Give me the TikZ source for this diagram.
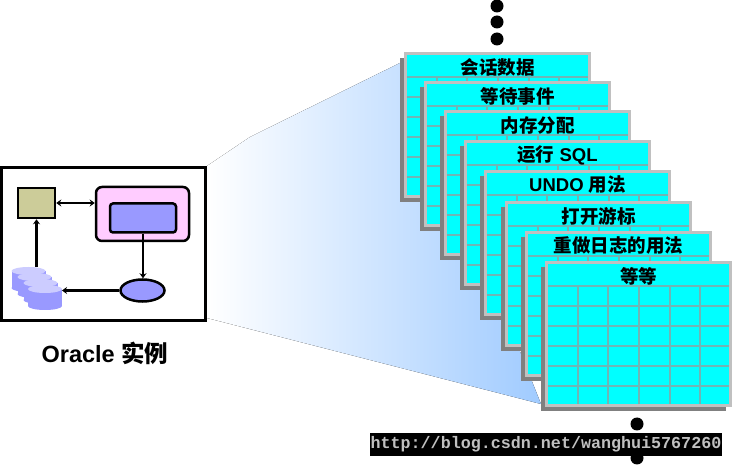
\documentclass[tikz,border=0pt]{standalone}
\usepackage{fontspec}
\setmainfont{Liberation Sans}
\setmonofont{Liberation Mono}
\newfontfamily\cjk{Noto Sans CJK SC}
\usetikzlibrary{arrows.meta,shapes.geometric,calc}
\definecolor{tabfill}{HTML}{00FFFF}
\definecolor{tabframe}{HTML}{C0C0C0}
\definecolor{tabshadow}{HTML}{808080}
\definecolor{tabgridline}{HTML}{6FB5B5}
\definecolor{memfill}{HTML}{9999FF}
\definecolor{dbtop}{HTML}{CCCCFF}
\definecolor{fanblue}{HTML}{A0CBFF}
\definecolor{squarefill}{HTML}{CCCC99}
\definecolor{sgafill}{HTML}{FFCCFF}

\begin{document}
\begin{tikzpicture}[x=1pt,y=-1pt,
                    tabbody/.style={fill=tabfill,draw=tabframe,line width=3pt},
                    tabgrid/.style={draw=tabgridline,line width=1.3pt},
                    tabtitle/.style={font=\fontsize{18.5}{20}\selectfont\bfseries,inner sep=0pt},
                    blob/.style={circle,fill=black,inner sep=0pt,minimum size=13pt},
                    part/.style={draw,line width=2.5pt,inner sep=0pt},
                    flow/.style={-{Stealth[length=5pt,width=7pt]},line width=2.5pt},
                    dbbox/.style={inner sep=0pt,outer sep=0pt,minimum width=34pt,minimum height=25pt}]
      \useasboundingbox (0,0) rectangle (732,465);

      \fill[left color=white,right color=fanblue] (207,166) -- (250,137) -- (404,61) -- (541,404) -- (207,318) -- cycle;

      \foreach[count=\i] \y in {6,22,39} {
        \node[blob] (top\i) at (497,\y) {};
      }
      \foreach[count=\i] \y in {424,441,458} {
        \node[blob] (bottom\i) at (637,\y) {};
      }

      \foreach[count=\i] \x/\y/\title in {404/52/{\cjk 会话数据},
                                          424/81/{\cjk 等待事件},
                                          444/110/{\cjk 内存分配},
                                          464/140/{\cjk 运行} SQL,
                                          484/170/UNDO {\cjk 用法},
                                          505/201/{\cjk 打开游标},
                                          525/231/{\cjk 重做日志的用法},
                                          545/261/{\cjk 等等}} {
        \begin{scope}[shift={(\x,\y)}]
          \fill[tabshadow] (-4,6) rectangle (181,150);
          \draw[tabbody] (1.5,1.5) rectangle (185.5,144.5);
          \foreach \row in {25,45,65,85,105,125} {
            \draw[tabgrid] (3,\row) -- (184,\row);
          }
          \foreach \col in {33,63,94,125,155} {
            \draw[tabgrid] (\col,25) -- (\col,143);
          }
          \node[tabtitle] (title\i) at (93.5,15) {\title};
        \end{scope}
      }

      \node[draw,line width=3pt,fill=white,minimum width=204pt,minimum height=153pt,inner sep=0pt] (instance) at (103.5,244) {};
      \node[part,fill=squarefill,minimum width=37pt,minimum height=30pt] (square) at (36.5,203) {};
      \node[part,fill=sgafill,rounded corners=6pt,minimum width=93pt,minimum height=54pt] (sga) at (142.5,214) {};
      \node[part,fill=memfill,rounded corners=3pt,minimum width=66pt,minimum height=29pt] (pool) at (143,218) {};
      \node[part,fill=memfill,ellipse,minimum width=44pt,minimum height=22pt] (proc) at (142.5,290.5) {};

      \foreach[count=\i] \x/\y in {28.5/279.5,34.5/285.5,40.5/291.5,45/297.5} {
        \node[dbbox] (db\i) at (\x,\y) {};
        \fill[memfill] ($(db\i.north west)+(0,4)$) rectangle ($(db\i.south east)+(0,-4)$);
        \fill[memfill] ($(db\i.south)+(0,-4)$) ellipse (17 and 4);
        \fill[dbtop] ($(db\i.north)+(0,4)$) ellipse (17 and 4);
      }

      \draw[flow,{Stealth[length=5pt,width=7pt]}-{Stealth[length=5pt,width=7pt]}] (square.east) -- (square.east -| sga.west);
      \draw[flow] (pool.south) -- (pool.south |- proc.north);
      \draw[flow] (proc.west) -- (proc.west -| db4.east);
      \draw[flow] (square.south |- db1.north) -- (square.south);

      \node[font=\fontsize{23.5}{26}\selectfont\bfseries,inner sep=0pt] (caption) at (105,353) {Oracle {\cjk 实例}};

      \node[fill=black,text=tabframe,font=\ttfamily\bfseries\fontsize{16.7}{18}\selectfont,inner sep=0pt,minimum width=352pt,minimum height=23pt] (mark) at (546,444.5) {http://blog.csdn.net/wanghui5767260};
    \end{tikzpicture}
\end{document}
